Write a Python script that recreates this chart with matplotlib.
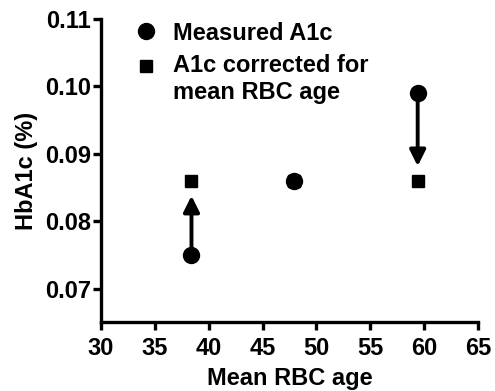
import matplotlib
matplotlib.use("Agg")
import matplotlib.pyplot as plt

rbc_age = [38.4, 47.9, 59.4]
measured = [0.075, 0.086, 0.099]
corrected = [0.086, 0.086, 0.086]
xticks = [30, 35, 40, 45, 50, 55, 60, 65]
yticks = [0.07, 0.08, 0.09, 0.10, 0.11]
legend_labels = ['Measured A1c', 'A1c corrected for\nmean RBC age']

plt.rcParams['font.family'] = ['Liberation Sans', 'DejaVu Sans']
plt.rcParams['font.weight'] = 'bold'

W, H = 495, 391
fig = plt.figure(figsize=(W/100, H/100), dpi=100)
ax = fig.add_axes([101/W, (H-322)/H, (478-101)/W, (322-19)/H])

for x, m, c in zip(rbc_age, measured, corrected):
    if abs(c - m) > 1e-9:
        sign = 1 if c > m else -1
        ax.annotate('', xy=(x, c - sign*0.0022), xytext=(x, m),
                    arrowprops=dict(arrowstyle='-|>', color='black', lw=2.8,
                                    mutation_scale=24, shrinkA=0, shrinkB=0))

ax.plot(rbc_age, measured, 'o', color='black', ms=11.5, zorder=3)
ax.plot(rbc_age, corrected, 's', color='black', ms=9.2, zorder=3)

ax.set_xlim(30, 65)
ax.set_ylim(0.0651, 0.11)
ax.set_xticks(xticks)
ax.set_yticks(yticks)
ax.set_yticklabels(['%.2f' % v for v in yticks])
ax.spines['top'].set_visible(False)
ax.spines['right'].set_visible(False)
ax.spines['left'].set_linewidth(2.4)
ax.spines['bottom'].set_linewidth(2.4)
ax.spines['left'].set_bounds(0.0651, 0.11)
ax.tick_params(width=2.4, length=6, labelsize=17)
ax.tick_params(axis='y', pad=1)
ax.tick_params(axis='x', pad=5)
for lbl in ax.get_xticklabels() + ax.get_yticklabels():
    lbl.set_fontweight('bold')
ax.set_xlabel('Mean RBC age', fontsize=17, fontweight='bold', labelpad=5)
ax.set_ylabel('HbA1c (%)', fontsize=17, fontweight='bold', labelpad=5)

# legend (marker aligned with first line of label)
fig.lines.append(plt.Line2D([146/W], [(H-31)/H], marker='o', ms=11.5, color='black',
                            transform=fig.transFigure))
fig.lines.append(plt.Line2D([146/W], [(H-66)/H], marker='s', ms=9.2, color='black',
                            transform=fig.transFigure))
fig.text(173/W, (H-31)/H, legend_labels[0], fontsize=17, fontweight='bold',
         va='center_baseline', ha='left')
fig.text(173/W, (H-66)/H, legend_labels[1], fontsize=17, fontweight='bold',
         va='top', ha='left', linespacing=1.22,
         transform=fig.transFigure + matplotlib.transforms.ScaledTranslation(0, 12/100, fig.dpi_scale_trans))

fig.savefig('out.png', dpi=100)
